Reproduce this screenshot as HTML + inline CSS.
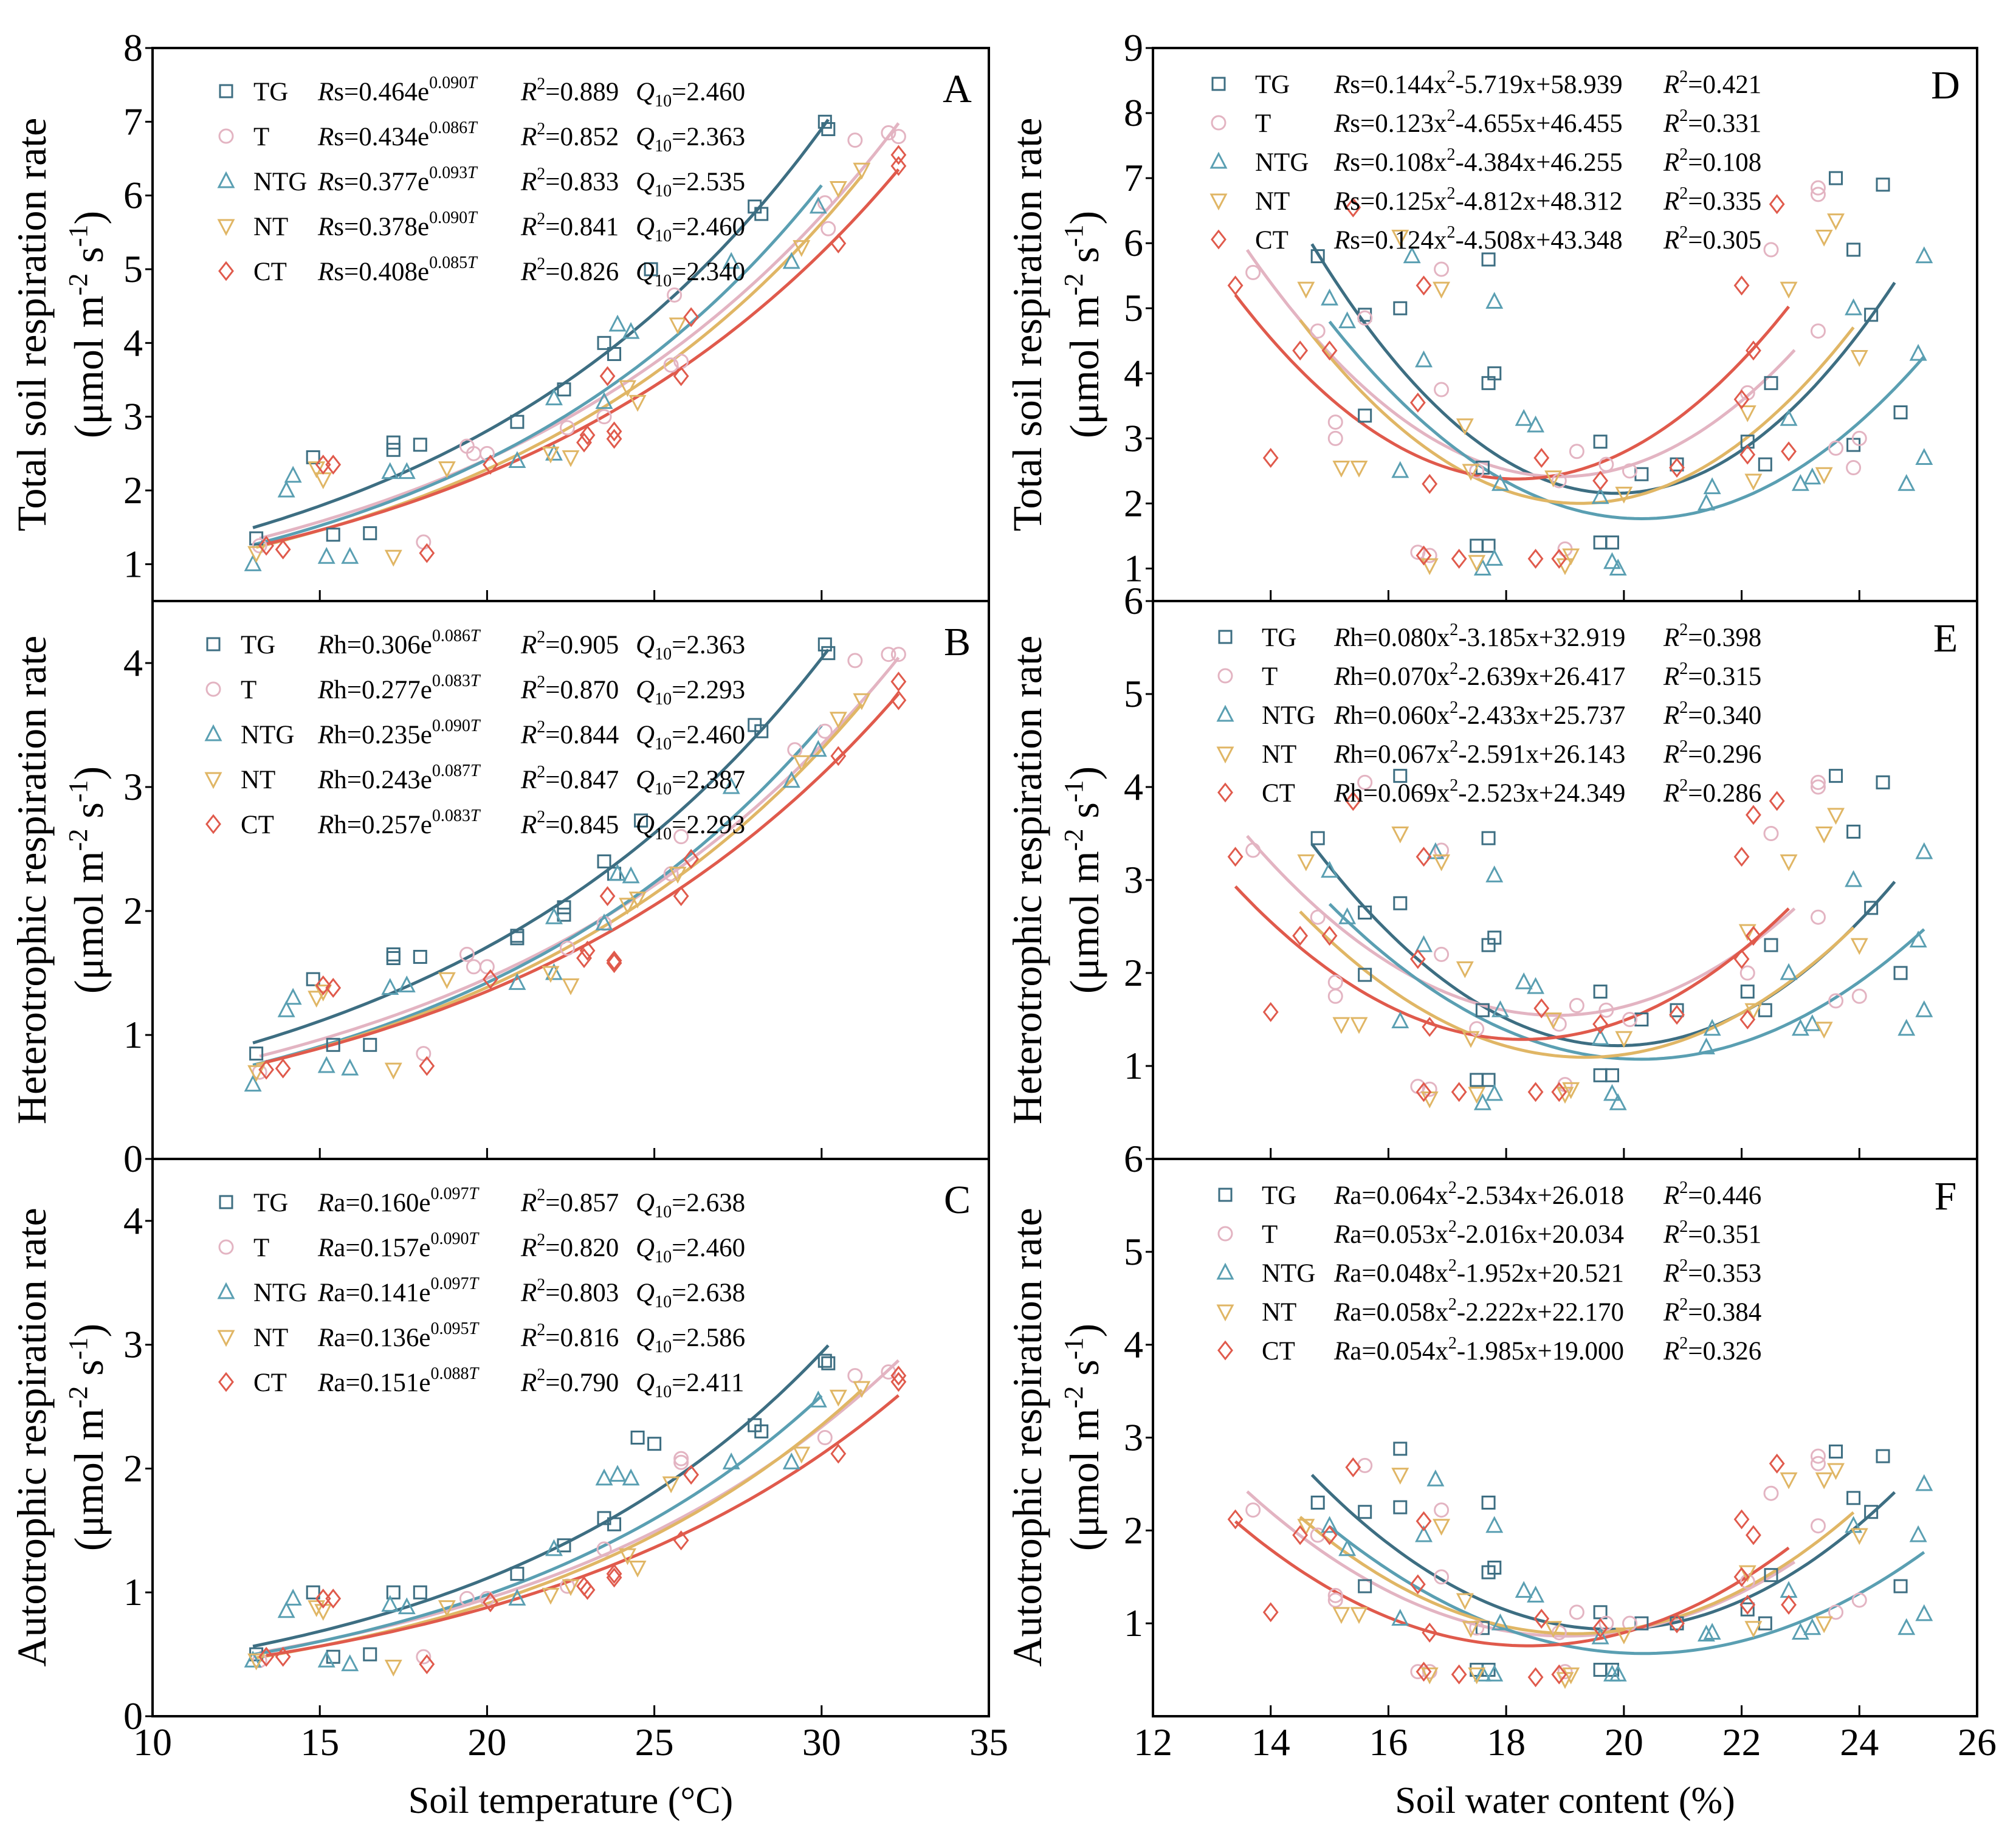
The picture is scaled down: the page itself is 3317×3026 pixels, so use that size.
<!DOCTYPE html>
<html><head><meta charset="utf-8"><style>
html,body{margin:0;padding:0;background:#fff}
svg{display:block}
text{font-family:"Liberation Serif",serif;fill:#000}
</style></head><body>
<svg id="chart" width="3317" height="3026" viewBox="0 0 3317 3026" xmlns="http://www.w3.org/2000/svg"></svg>
<script>
// ---------- data ----------
const seriesNames = ["TG","T","NTG","NT","CT"];
const colors = ["#3d6e82","#e3b4c2","#5a9fb2","#e0b665","#e05a4c"];
// Panel A (Rs vs temperature)
const A_TG=[[13.1,1.35],[14.8,2.45],[15.4,1.4],[16.5,1.42],[17.2,2.65],[17.2,2.55],[18,2.62],[20.9,2.93],[22.3,3.37],[23.5,4.0],[23.8,3.85],[24.9,5.0],[28,5.85],[28.2,5.75],[30.1,7.0],[30.2,6.9]];
const A_T=[[13.2,1.25],[18.1,1.3],[19.4,2.6],[19.6,2.5],[20,2.5],[22.4,2.85],[23.5,3.0],[25.5,3.7],[25.8,3.75],[25.6,4.65],[30.1,5.9],[30.2,5.55],[31,6.75],[32,6.85],[32.3,6.8]];
const A_NTG=[[13,1.0],[14,2.0],[14.2,2.2],[15.2,1.1],[15.9,1.1],[17.1,2.25],[17.6,2.25],[20.9,2.4],[22.0,3.25],[22.0,2.5],[23.5,3.2],[23.9,4.25],[24.3,4.15],[27.3,5.1],[29.1,5.1],[29.9,5.85]];
const A_NT=[[13.1,1.15],[14.9,2.3],[15.1,2.15],[17.2,1.1],[18.8,2.3],[21.9,2.5],[22.5,2.45],[24.2,3.4],[24.5,3.2],[25.7,4.25],[29.4,5.3],[30.5,6.1],[31.2,6.35]];
const A_CT=[[13.4,1.25],[13.9,1.2],[15.1,2.35],[15.4,2.35],[18.2,1.15],[20.1,2.35],[22.9,2.65],[23.0,2.75],[23.6,3.55],[23.8,2.8],[23.8,2.7],[25.8,3.55],[26.1,4.35],[30.5,5.35],[32.3,6.55],[32.3,6.4]];
// Panel B (Rh)
const B_TG=[[13.1,0.85],[14.8,1.45],[15.4,0.92],[16.5,0.92],[17.2,1.65],[17.2,1.62],[18,1.63],[20.9,1.8],[20.9,1.78],[22.3,2.03],[22.3,1.97],[23.5,2.4],[23.8,2.3],[24.6,2.73],[28,3.5],[28.2,3.45],[30.1,4.15],[30.2,4.08]];
const B_T=[[13.2,0.7],[18.1,0.85],[19.4,1.65],[19.6,1.55],[20,1.55],[22.4,1.7],[23.5,1.9],[25.5,2.3],[25.8,2.6],[29.2,3.3],[30.1,3.45],[31,4.02],[32,4.07],[32.3,4.07]];
const B_NTG=[[13,0.6],[14,1.2],[14.2,1.3],[15.2,0.75],[15.9,0.73],[17.1,1.38],[17.6,1.4],[20.9,1.42],[22.0,1.95],[22.0,1.5],[23.5,1.9],[23.9,2.3],[24.3,2.28],[27.3,3.0],[29.1,3.05],[29.9,3.3]];
const B_NT=[[13.1,0.7],[14.9,1.3],[15.1,1.35],[17.2,0.72],[18.8,1.45],[21.9,1.5],[22.5,1.4],[24.2,2.05],[24.5,2.1],[25.7,2.3],[29.4,3.2],[30.5,3.55],[31.2,3.7]];
const B_CT=[[13.4,0.72],[13.9,0.73],[15.1,1.4],[15.4,1.38],[18.2,0.75],[20.1,1.45],[22.9,1.62],[23.0,1.68],[23.6,2.12],[23.8,1.6],[23.8,1.58],[25.8,2.12],[26.1,2.42],[30.5,3.25],[32.3,3.85],[32.3,3.7]];
// Panel C (Ra)
const C_TG=[[13.1,0.5],[14.8,1.0],[15.4,0.48],[16.5,0.5],[17.2,1.0],[18,1.0],[20.9,1.15],[22.3,1.38],[23.5,1.6],[23.8,1.55],[24.5,2.25],[25,2.2],[28,2.35],[28.2,2.3],[30.1,2.87],[30.2,2.85]];
const C_T=[[13.2,0.45],[18.1,0.48],[19.4,0.95],[20,0.95],[22.4,1.05],[23.5,1.35],[25.8,2.05],[25.8,2.08],[30.1,2.25],[31,2.75],[32,2.78]];
const C_NTG=[[13,0.45],[14,0.85],[14.2,0.95],[15.2,0.45],[15.9,0.42],[17.1,0.9],[17.6,0.88],[20.9,0.95],[22.0,1.35],[23.5,1.92],[23.9,1.95],[24.3,1.92],[27.3,2.05],[29.1,2.05],[29.9,2.55]];
const C_NT=[[13.1,0.45],[14.9,0.88],[15.1,0.85],[17.2,0.4],[18.8,0.88],[21.9,0.98],[22.5,1.05],[24.2,1.3],[24.5,1.2],[25.5,1.88],[29.4,2.12],[30.5,2.58],[31.2,2.65]];
const C_CT=[[13.4,0.48],[13.9,0.48],[15.1,0.95],[15.4,0.95],[18.2,0.42],[20.1,0.92],[22.9,1.05],[23.0,1.02],[23.8,1.15],[23.8,1.12],[25.8,1.42],[26.1,1.95],[30.5,2.12],[32.3,2.75],[32.3,2.7]];
// Panel D (Rs vs water)
const D_TG=[[14.8,5.8],[15.6,4.9],[15.6,3.35],[16.2,5.0],[17.7,5.75],[17.8,4.0],[17.7,3.85],[17.6,2.55],[17.5,1.35],[17.7,1.35],[19.6,2.95],[19.6,1.4],[19.8,1.4],[20.3,2.45],[20.9,2.6],[22.1,2.95],[22.5,3.85],[23.6,7.0],[23.9,5.9],[24.2,4.9],[24.4,6.9],[24.7,3.4],[23.9,2.9],[22.4,2.6]];
const D_T=[[13.7,5.55],[14.8,4.65],[15.1,3.25],[15.1,3.0],[15.6,4.85],[16.5,1.25],[16.7,1.2],[16.9,5.6],[16.9,3.75],[17.5,2.5],[18.9,2.35],[19.2,2.8],[19.0,1.3],[19.7,2.6],[20.1,2.5],[22.1,3.7],[22.5,5.9],[23.3,6.75],[23.3,4.65],[23.6,2.85],[24.0,3.0],[23.9,2.55],[23.3,6.85]];
const D_NTG=[[15.0,5.15],[15.3,4.8],[16.2,2.5],[16.6,4.2],[16.4,5.8],[17.8,5.1],[17.6,1.0],[17.9,2.3],[17.8,1.15],[18.3,3.3],[18.5,3.2],[19.6,2.1],[19.8,1.1],[19.9,1.0],[21.4,2.0],[21.5,2.25],[22.8,3.3],[23.0,2.3],[23.2,2.4],[23.9,5.0],[24.8,2.3],[25.0,4.3],[25.1,2.7],[25.1,5.8]];
const D_NT=[[14.6,5.3],[15.2,2.55],[15.5,2.55],[16.2,6.1],[16.7,1.05],[16.9,5.3],[17.3,3.2],[17.4,2.5],[17.5,1.1],[18.8,2.4],[19.0,1.05],[19.1,1.2],[20.0,2.15],[22.1,3.4],[22.2,2.35],[22.8,5.3],[23.4,2.45],[23.4,6.1],[23.6,6.35],[24.0,4.25]];
const D_CT=[[13.4,5.35],[14.0,2.7],[14.5,4.35],[15.0,4.35],[15.4,6.55],[16.5,3.55],[16.6,5.35],[16.7,2.3],[16.6,1.2],[17.2,1.15],[18.6,2.7],[18.5,1.15],[18.9,1.15],[19.6,2.35],[20.9,2.55],[22.0,5.35],[22.0,3.6],[22.2,4.35],[22.1,2.75],[22.6,6.6],[22.8,2.8]];
// Panel E (Rh vs water)
const E_TG=[[14.8,3.45],[15.6,2.65],[15.6,1.98],[16.2,4.12],[16.2,2.75],[17.7,3.45],[17.8,2.38],[17.7,2.3],[17.6,1.6],[17.5,0.85],[17.7,0.85],[19.6,1.8],[19.6,0.9],[19.8,0.9],[20.3,1.5],[20.9,1.6],[22.1,1.8],[22.5,2.3],[23.6,4.12],[23.9,3.52],[24.2,2.7],[24.4,4.05],[24.7,2.0],[22.4,1.6]];
const E_T=[[13.7,3.32],[14.8,2.6],[15.1,1.9],[15.1,1.75],[15.6,4.05],[16.5,0.78],[16.7,0.75],[16.9,3.32],[16.9,2.2],[17.5,1.4],[18.9,1.45],[19.2,1.65],[19.0,0.8],[19.7,1.6],[20.1,1.5],[22.1,2.0],[22.5,3.5],[23.3,4.0],[23.3,2.6],[23.6,1.7],[24.0,1.75],[23.3,4.05]];
const E_NTG=[[15.0,3.1],[15.3,2.6],[16.2,1.48],[16.6,2.3],[16.8,3.3],[17.8,3.05],[17.6,0.6],[17.9,1.6],[17.8,0.7],[18.3,1.9],[18.5,1.85],[19.6,1.3],[19.8,0.7],[19.9,0.6],[21.4,1.2],[21.5,1.4],[22.8,2.0],[23.0,1.4],[23.2,1.45],[23.9,3.0],[24.8,1.4],[25.0,2.35],[25.1,1.6],[25.1,3.3]];
const E_NT=[[14.6,3.2],[15.2,1.45],[15.5,1.45],[16.2,3.5],[16.7,0.65],[16.9,3.2],[17.3,2.05],[17.4,1.3],[17.5,0.7],[18.8,1.5],[19.0,0.7],[19.1,0.75],[20.0,1.3],[22.1,2.45],[22.2,1.6],[22.8,3.2],[23.4,3.5],[23.4,1.4],[23.6,3.7],[24.0,2.3]];
const E_CT=[[13.4,3.25],[14.0,1.58],[14.5,2.4],[15.0,2.4],[15.4,3.85],[16.5,2.15],[16.6,3.25],[16.7,1.42],[16.6,0.72],[17.2,0.72],[18.6,1.62],[18.5,0.72],[18.9,0.72],[19.6,1.45],[20.9,1.55],[22.0,3.25],[22.0,2.15],[22.2,2.4],[22.1,1.5],[22.6,3.85],[22.2,3.7]];
// Panel F (Ra vs water)
const F_TG=[[14.8,2.3],[15.6,2.2],[15.6,1.4],[16.2,2.88],[16.2,2.25],[17.7,2.3],[17.8,1.6],[17.7,1.55],[17.6,0.95],[17.5,0.5],[17.7,0.5],[19.6,1.12],[19.6,0.5],[19.8,0.5],[20.3,1.0],[20.9,1.0],[22.1,1.15],[22.5,1.52],[23.6,2.85],[23.9,2.35],[24.2,2.2],[24.4,2.8],[24.7,1.4],[22.4,1.0]];
const F_T=[[13.7,2.22],[14.8,1.95],[15.1,1.3],[15.1,1.25],[15.6,2.7],[16.5,0.48],[16.7,0.48],[16.9,2.22],[16.9,1.5],[17.5,0.95],[18.9,0.9],[19.2,1.12],[19.0,0.48],[19.7,1.0],[20.1,1.0],[22.1,1.45],[22.5,2.4],[23.3,2.72],[23.3,2.05],[23.6,1.12],[24.0,1.25],[23.3,2.8]];
const F_NTG=[[15.0,2.05],[15.3,1.8],[16.2,1.05],[16.6,1.95],[16.8,2.55],[17.8,2.05],[17.6,0.45],[17.9,1.0],[17.8,0.45],[18.3,1.35],[18.5,1.3],[19.6,0.85],[19.8,0.45],[19.9,0.45],[21.4,0.88],[21.5,0.9],[22.8,1.35],[23.0,0.9],[23.2,0.95],[23.9,2.05],[24.8,0.95],[25.0,1.95],[25.1,1.1],[25.1,2.5]];
const F_NT=[[14.6,2.05],[15.2,1.1],[15.5,1.1],[16.2,2.6],[16.7,0.45],[16.9,2.05],[17.3,1.25],[17.4,0.95],[17.5,0.45],[18.8,0.95],[19.0,0.4],[19.1,0.45],[20.0,0.88],[22.1,1.55],[22.2,0.95],[22.8,2.55],[23.4,2.55],[23.4,1.0],[23.6,2.65],[24.0,1.95]];
const F_CT=[[13.4,2.12],[14.0,1.12],[14.5,1.95],[15.0,1.95],[15.4,2.68],[16.5,1.42],[16.6,2.1],[16.7,0.9],[16.6,0.48],[17.2,0.45],[18.6,1.05],[18.5,0.42],[18.9,0.45],[19.6,0.95],[20.9,1.0],[22.0,2.12],[22.0,1.5],[22.2,1.95],[22.1,1.2],[22.6,2.72],[22.8,1.2]];
// fitted curve parameters
const A_a=[0.464,0.434,0.377,0.378,0.408], A_b=[0.090,0.086,0.093,0.090,0.085];
const B_a=[0.306,0.277,0.235,0.243,0.257], B_b=[0.086,0.083,0.090,0.087,0.083];
const C_a=[0.160,0.157,0.141,0.136,0.151], C_b=[0.097,0.090,0.097,0.095,0.088];
const tempRange=[[13,30.2],[13.2,32.3],[13,30],[13.1,31.2],[13.4,32.3]];
const D_q=[[0.144,-5.719,58.939],[0.123,-4.655,46.455],[0.108,-4.384,46.255],[0.125,-4.812,48.312],[0.124,-4.508,43.348]];
const E_q=[[0.080,-3.185,32.919],[0.070,-2.639,26.417],[0.060,-2.433,25.737],[0.067,-2.591,26.143],[0.069,-2.523,24.349]];
const F_q=[[0.064,-2.534,26.018],[0.053,-2.016,20.034],[0.048,-1.952,20.521],[0.058,-2.222,22.170],[0.054,-1.985,19.000]];
const waterRange=[[14.7,24.6],[13.6,22.9],[15.0,25.1],[14.5,23.9],[13.4,22.8]];
const A_leg=[["Rs","0.464","0.090","0.889","2.460"],["Rs","0.434","0.086","0.852","2.363"],["Rs","0.377","0.093","0.833","2.535"],["Rs","0.378","0.090","0.841","2.460"],["Rs","0.408","0.085","0.826","2.340"]];
const B_leg=[["Rh","0.306","0.086","0.905","2.363"],["Rh","0.277","0.083","0.870","2.293"],["Rh","0.235","0.090","0.844","2.460"],["Rh","0.243","0.087","0.847","2.387"],["Rh","0.257","0.083","0.845","2.293"]];
const C_leg=[["Ra","0.160","0.097","0.857","2.638"],["Ra","0.157","0.090","0.820","2.460"],["Ra","0.141","0.097","0.803","2.638"],["Ra","0.136","0.095","0.816","2.586"],["Ra","0.151","0.088","0.790","2.411"]];
const D_leg=[["Rs","0.144","5.719","58.939","0.421"],["Rs","0.123","4.655","46.455","0.331"],["Rs","0.108","4.384","46.255","0.108"],["Rs","0.125","4.812","48.312","0.335"],["Rs","0.124","4.508","43.348","0.305"]];
const E_leg=[["Rh","0.080","3.185","32.919","0.398"],["Rh","0.070","2.639","26.417","0.315"],["Rh","0.060","2.433","25.737","0.340"],["Rh","0.067","2.591","26.143","0.296"],["Rh","0.069","2.523","24.349","0.286"]];
const F_leg=[["Ra","0.064","2.534","26.018","0.446"],["Ra","0.053","2.016","20.034","0.351"],["Ra","0.048","1.952","20.521","0.353"],["Ra","0.058","2.222","22.170","0.384"],["Ra","0.054","1.985","19.000","0.326"]];

// ---------- drawing ----------
const svg=document.getElementById('chart');
const NS="http://www.w3.org/2000/svg";
function el(tag,attrs,parent){const e=document.createElementNS(NS,tag);for(const k in attrs)e.setAttribute(k,attrs[k]);(parent||svg).appendChild(e);return e;}

const LX=[251,1627], RX=[1897,3253];
const panels=[
 {id:"A",x:LX,y:[79,989],xd:[10,35],yd:[0.5,8],yt:[1,2,3,4,5,6,7,8],xt:[15,20,25,30],pts:[A_TG,A_T,A_NTG,A_NT,A_CT],type:"exp",pa:A_a,pb:A_b,leg:A_leg},
 {id:"B",x:LX,y:[989,1907],xd:[10,35],yd:[0,4.5],yt:[0,1,2,3,4],xt:[15,20,25,30],pts:[B_TG,B_T,B_NTG,B_NT,B_CT],type:"exp",pa:B_a,pb:B_b,leg:B_leg},
 {id:"C",x:LX,y:[1907,2824],xd:[10,35],yd:[0,4.5],yt:[0,1,2,3,4],xt:[15,20,25,30],xl:[10,15,20,25,30,35],pts:[C_TG,C_T,C_NTG,C_NT,C_CT],type:"exp",pa:C_a,pb:C_b,leg:C_leg},
 {id:"D",x:RX,y:[79,989],xd:[12,26],yd:[0.5,9],yt:[1,2,3,4,5,6,7,8,9],xt:[14,16,18,20,22,24],pts:[D_TG,D_T,D_NTG,D_NT,D_CT],type:"quad",q:D_q,leg:D_leg},
 {id:"E",x:RX,y:[989,1907],xd:[12,26],yd:[0,6],yt:[1,2,3,4,5,6],xt:[14,16,18,20,22,24],pts:[E_TG,E_T,E_NTG,E_NT,E_CT],type:"quad",q:E_q,leg:E_leg},
 {id:"F",x:RX,y:[1907,2824],xd:[12,26],yd:[0,6],yt:[1,2,3,4,5,6],xt:[14,16,18,20,22,24],xl:[12,14,16,18,20,22,24,26],pts:[F_TG,F_T,F_NTG,F_NT,F_CT],type:"quad",q:F_q,leg:F_leg}
];

function marker(g,k,cx,cy,color,name){
  const s=11; let e;
  const st={fill:"none",stroke:color,"stroke-width":3};
  if(k===0){e=el('rect',Object.assign({x:cx-s+1,y:cy-s+1,width:2*s-2,height:2*s-2},st),g);}
  else if(k===1){e=el('circle',Object.assign({cx:cx,cy:cy,r:s},st),g);}
  else if(k===2){e=el('polygon',Object.assign({points:`${cx},${cy-s-2} ${cx+s+1},${cy+s-1} ${cx-s-1},${cy+s-1}`},st),g);}
  else if(k===3){e=el('polygon',Object.assign({points:`${cx},${cy+s+2} ${cx+s+1},${cy-s+1} ${cx-s-1},${cy-s+1}`},st),g);}
  else {e=el('polygon',Object.assign({points:`${cx},${cy-s-3} ${cx+s},${cy} ${cx},${cy+s+3} ${cx-s},${cy}`},st),g);}
  
  
  return e;
}

panels.forEach(p=>{
  const g=el('g',{});
  
  
  const sx=v=>p.x[0]+(v-p.xd[0])/(p.xd[1]-p.xd[0])*(p.x[1]-p.x[0]);
  const sy=v=>p.y[1]-(v-p.yd[0])/(p.yd[1]-p.yd[0])*(p.y[1]-p.y[0]);
  for(let i=0;i<5;i++){
    const r=p.type==="exp"?tempRange[i]:waterRange[i];
    let d="";
    for(let j=0;j<=80;j++){
      const xv=r[0]+(r[1]-r[0])*j/80;
      const yv=p.type==="exp"?p.pa[i]*Math.exp(p.pb[i]*xv):(p.q[i][0]*xv*xv+p.q[i][1]*xv+p.q[i][2]);
      d+=(j?"L":"M")+sx(xv).toFixed(1)+","+sy(yv).toFixed(1);
    }
    const c=el('path',{d:d,fill:"none",stroke:colors[i],"stroke-width":5},g);
    
    
  }
  for(let i=0;i<5;i++){
    p.pts[i].forEach(pt=>{ marker(g,i,sx(pt[0]),sy(pt[1]),colors[i],'point-'+seriesNames[i].toLowerCase()); });
  }
  const fr=el('rect',{x:p.x[0],y:p.y[0],width:p.x[1]-p.x[0],height:p.y[1]-p.y[0],fill:"none",stroke:"#000","stroke-width":4},g);
  
  
  p.xt.forEach(v=>{ el('line',{x1:sx(v),x2:sx(v),y1:p.y[1],y2:p.y[1]-18,stroke:"#000","stroke-width":3},g); });
  p.yt.forEach(v=>{
    const yy=sy(v);
    el('line',{x1:p.x[0],x2:p.x[0]-12,y1:yy,y2:yy,stroke:"#000","stroke-width":3},g);
    const t=el('text',{x:p.x[0]-16,y:yy+21,"text-anchor":"end","font-size":64},g);
    t.textContent=v;
    
    
  });
  if(p.xl){ p.xl.forEach(v=>{
    const t=el('text',{x:sx(v),y:2888,"text-anchor":"middle","font-size":64},g);
    t.textContent=v;
    
    
  });}
  const L=el('text',{x:p.x[1]-52,y:p.y[0]+(p.type==="exp"?89:83),"text-anchor":"middle","font-size":66},g);
  L.textContent=p.id;
  
  
  const lg=el('g',{},g);
  
  
  const isExp=p.type==="exp";
  const step=isExp?74:64;
  const first=p.y[0]+(isExp?71:59);
  const mx=isExp?(p.id==="B"?351:372):(p.id==="D"?2005:2016);
  for(let i=0;i<5;i++){
    const yy=first+i*step;
    marker(lg,i,mx,yy,colors[i],'legend-marker-'+seriesNames[i].toLowerCase());
    const nm=el('text',{x:mx+(isExp?45:60),y:yy+15,"font-size":43},lg);
    nm.textContent=seriesNames[i];
    
    
    const Lg=p.leg[i];
    const eq=el('text',{x:isExp?523:2195,y:yy+15,"font-size":43},lg);
    
    
    const v=Lg[0][1];
    if(isExp){
      eq.innerHTML=`<tspan font-style="italic">R</tspan>${v}=${Lg[1]}e<tspan dy="-20" font-size="28">${Lg[2]}<tspan font-style="italic">T</tspan></tspan><tspan x="857" dy="20" font-style="italic">R</tspan><tspan dy="-18" font-size="28">2</tspan><tspan dy="18">=${Lg[3]}</tspan><tspan x="1046" font-style="italic">Q</tspan><tspan dy="10" font-size="28">10</tspan><tspan dy="-10">=${Lg[4]}</tspan>`;
    } else {
      eq.innerHTML=`<tspan font-style="italic">R</tspan>${v}=${Lg[1]}x<tspan dy="-18" font-size="28">2</tspan><tspan dy="18">-${Lg[2]}x+${Lg[3]}</tspan><tspan x="2737" font-style="italic">R</tspan><tspan dy="-18" font-size="28">2</tspan><tspan dy="18">=${Lg[4]}</tspan>`;
    }
  }
});

function ytitle(cx,cy,l1,name){
  const g=el('g',{transform:`translate(${cx},${cy}) rotate(-90)`});
  
  
  const t1=el('text',{x:0,y:-47,"text-anchor":"middle","font-size":68},g); t1.textContent=l1;
  const t2=el('text',{x:0,y:47,"text-anchor":"middle","font-size":68},g);
  t2.innerHTML='(μmol m<tspan dy="-26" font-size="44">-2</tspan><tspan dy="26"> s</tspan><tspan dy="-26" font-size="44">-1</tspan><tspan dy="26">)</tspan>';
}
ytitle(122,534,"Total soil respiration rate","y-axis-title-a");
ytitle(122,1448,"Heterotrophic respiration rate","y-axis-title-b");
ytitle(122,2365,"Autotrophic respiration rate","y-axis-title-c");
ytitle(1760,534,"Total soil respiration rate","y-axis-title-d");
ytitle(1760,1448,"Heterotrophic respiration rate","y-axis-title-e");
ytitle(1760,2365,"Autotrophic respiration rate","y-axis-title-f");
const xt1=el('text',{x:939,y:2983,"text-anchor":"middle","font-size":62}); xt1.textContent="Soil temperature (°C)";


const xt2=el('text',{x:2575,y:2983,"text-anchor":"middle","font-size":62}); xt2.textContent="Soil water content (%)";


</script>
</body></html>
